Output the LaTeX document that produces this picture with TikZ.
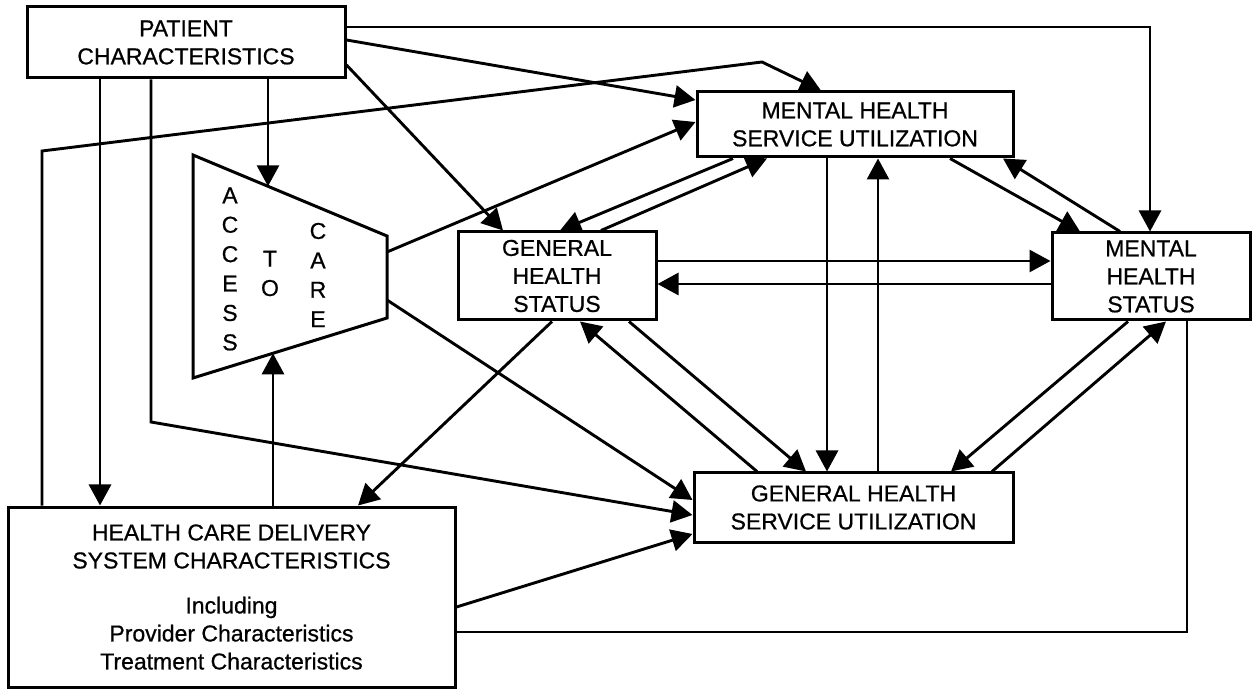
\documentclass[tikz,border=0pt]{standalone}
\usepackage{fontspec}
\setmainfont{Liberation Sans}[FakeBold=0.7]
\usetikzlibrary{arrows.meta,calc}
\begin{document}
\begin{tikzpicture}[x=0.5pt,y=-0.5pt,
  box/.style={draw, line width=1.5pt, inner sep=0pt, align=center, font=\fontsize{11.5}{14}\selectfont},
  lett/.style={inner sep=0pt, align=center, font=\fontsize{11.5}{14.7}\selectfont},
  arr/.style={line width=1.45pt, -{Triangle[length=10.5pt,width=11pt]}},
  ln/.style={line width=1.45pt}]
\useasboundingbox (0,0) rectangle (1253,689);

% boxes
\node[box, minimum width=159pt, minimum height=35.5pt] (pat) at (186,42.5) {PATIENT\\CHARACTERISTICS};
\node[box, minimum width=158pt, minimum height=32.5pt] (mhsu) at (855,124.5) {MENTAL HEALTH\\SERVICE UTILIZATION};
\node[box, minimum width=99pt, minimum height=43.5pt] (mhs) at (1151,276.5) {MENTAL\\HEALTH\\STATUS};
\node[box, minimum width=99pt, minimum height=44pt] (ghs) at (557,276) {GENERAL\\HEALTH\\STATUS};
\node[box, minimum width=159.5pt, minimum height=34.5pt] (ghsu) at (853.5,507.5) {GENERAL HEALTH\\SERVICE UTILIZATION};
\node[box, minimum width=223.5pt, minimum height=90pt] (hcds) at (231.5,597) {HEALTH CARE DELIVERY\\SYSTEM CHARACTERISTICS\\[8.5pt]Including\\Provider Characteristics\\Treatment Characteristics};

% access to care trapezoid
\coordinate (a1) at (193,155);
\coordinate (a2) at (387,236);
\coordinate (a3) at (387,318);
\coordinate (a4) at (193,378);
\draw[line width=1.5pt] (a1) -- (a2) -- (a3) -- (a4) -- cycle;
\node[lett] (acc1) at (230,269) {A\\C\\C\\E\\S\\S};
\node[lett] (acc2) at (270,273.5) {T\\O};
\node[lett] (acc3) at (318,275) {C\\A\\R\\E};
\coordinate (acctop) at (268,186.3);
\coordinate (accbot) at (273,353.3);
\coordinate (accr1) at (387,252);
\coordinate (accr2) at (387,300);

% bend points
\coordinate (b1) at (151,422);
\coordinate (b2) at (42,151);
\coordinate (b3) at (762,62);

% connectors
\draw[arr] (pat.east |- 0,27) -| (mhs.north -| 1150,0);
\draw[arr] (pat.east |- 0,40) -- (mhsu.west |- 0,100);
\draw[arr] (pat.east |- 0,65) -- (ghs.north -| 503,0);
\draw[arr] (pat.south -| 268,0) -- (acctop);
\draw[arr] (pat.south -| 100,0) -- (hcds.north -| 100,0);
\draw[arr] (pat.south -| 151,0) -- (b1) -- (ghsu.west |- 0,515);
\draw[arr] (hcds.north -| 42,0) -- (b2) -- (b3) -- (mhsu.north -| 821,0);
\draw[arr] (accr1) -- (mhsu.west |- 0,122);
\draw[arr] (accr2) -- (ghsu.west |- 0,500);
\draw[arr] (ghs.south -| 552,0) -- (hcds.north -| 358,0);
\draw[arr] (hcds.north -| 273,0) -- (accbot);
\draw[arr] (hcds.east |- 0,607) -- (ghsu.west |- 0,534);
\draw[ln] (hcds.east |- 0,632) -| (mhs.south -| 1187,0);
\draw[arr] (mhsu.south -| 733,0) -- (ghs.north -| 560,0);
\draw[arr] (ghs.north -| 601,0) -- (mhsu.south -| 767,0);
\draw[arr] (ghs.east |- 0,261) -- (mhs.west |- 0,261);
\draw[arr] (mhs.west |- 0,284) -- (ghs.east |- 0,284);
\draw[arr] (mhsu.south -| 950,0) -- (mhs.north -| 1080,0);
\draw[arr] (mhs.north -| 1120,0) -- (mhsu.south -| 1003,0);
\draw[arr] (mhsu.south -| 827,0) -- (ghsu.north -| 827,0);
\draw[arr] (ghsu.north -| 878,0) -- (mhsu.south -| 878,0);
\draw[arr] (ghsu.north -| 757,0) -- (ghs.south -| 580,0);
\draw[arr] (ghs.south -| 629,0) -- (ghsu.north -| 806,0);
\draw[arr] (mhs.south -| 1128,0) -- (ghsu.north -| 951,0);
\draw[arr] (ghsu.north -| 992,0) -- (mhs.south -| 1166,0);
\end{tikzpicture}
\end{document}
